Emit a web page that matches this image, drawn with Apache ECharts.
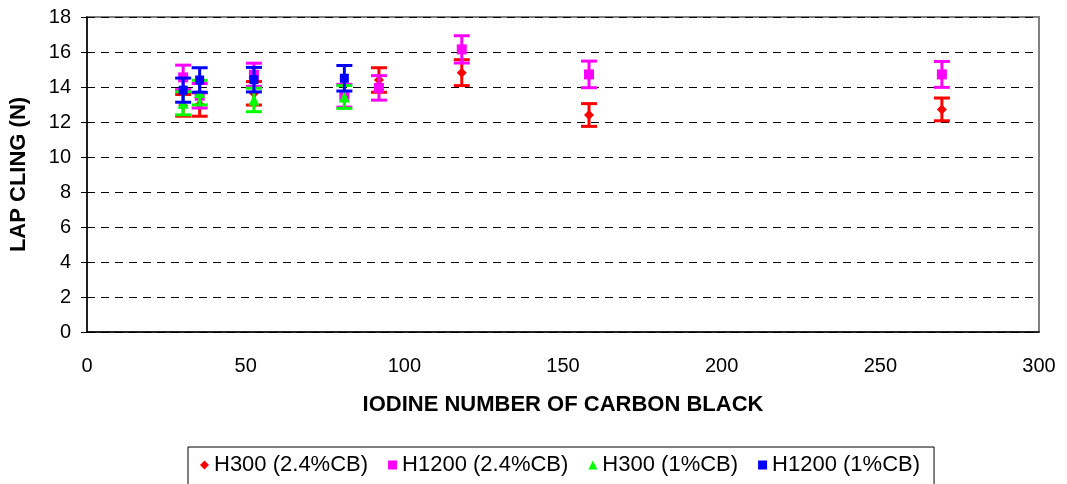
<!DOCTYPE html>
<html>
<head>
<meta charset="utf-8">
<script src="https://cdn.jsdelivr.net/npm/echarts@6/dist/echarts.min.js"></script>
<style>
html,body{margin:0;padding:0;background:#fff;}
#c{width:1067px;height:484px;}
</style>
</head>
<body>
<div id="c"></div>
<script>
// Tick values
const xTicks = [0, 50, 100, 150, 200, 250, 300];
const yTicks = [0, 2, 4, 6, 8, 10, 12, 14, 16, 18];

// Series names
const seriesNames = ['H300 (2.4%CB)', 'H1200 (2.4%CB)', 'H300 (1%CB)', 'H1200 (1%CB)'];

// H300 (2.4%CB)
const redX   = [30.3, 35.5, 52.6, 92.0, 118.1, 158.2, 269.4];
const redY   = [12.95, 13.0, 13.64, 14.4, 14.82, 12.4, 12.72];
const redErr = [0.62, 0.67, 0.67, 0.7, 0.74, 0.65, 0.65];

// H1200 (2.4%CB)
const magX   = [30.3, 35.5, 52.6, 81.1, 92.0, 118.1, 158.2, 269.4];
const magY   = [14.55, 13.5, 14.7, 13.5, 13.95, 16.15, 14.72, 14.72];
const magErr = [0.7, 0.7, 0.66, 0.65, 0.7, 0.78, 0.76, 0.74];

// H300 (1%CB)
const grnX   = [30.3, 35.5, 52.6, 81.1];
const grnY   = [13.07, 13.68, 13.26, 13.43];
const grnErr = [0.66, 0.7, 0.67, 0.65];

// H1200 (1%CB)
const bluX   = [30.3, 35.5, 52.6, 81.1];
const bluY   = [13.82, 14.4, 14.42, 14.5];
const bluErr = [0.69, 0.7, 0.7, 0.73];

const colors = ['#ff0000', '#ff00ff', '#00ff00', '#0000ff'];
const symbols = ['diamond', 'rect', 'triangle', 'rect'];
const symbolSizes = [10, 10, 11, 9];

const groups = [
  [redX, redY, redErr],
  [magX, magY, magErr],
  [grnX, grnY, grnErr],
  [bluX, bluY, bluErr]
];

function pts(g) { return g[0].map((x, i) => [x, g[1][i]]); }
function errs(g) { return g[0].map((x, i) => [x, g[1][i] - g[2][i], g[1][i] + g[2][i]]); }

const series = [];
groups.forEach((g, k) => {
  series.push({
    name: seriesNames[k] + ' err',
    type: 'custom',
    data: errs(g),
    z: 2 + k * 2,
    silent: true,
    renderItem: function (params, api) {
      const x = api.value(0);
      const lo = api.coord([x, api.value(1)]);
      const hi = api.coord([x, api.value(2)]);
      const hw = 8;
      const st = { stroke: colors[k], lineWidth: 3 };
      return {
        type: 'group',
        children: [
          { type: 'line', shape: { x1: lo[0], y1: lo[1], x2: hi[0], y2: hi[1] }, style: st },
          { type: 'line', shape: { x1: lo[0] - hw, y1: lo[1], x2: lo[0] + hw, y2: lo[1] }, style: st },
          { type: 'line', shape: { x1: hi[0] - hw, y1: hi[1], x2: hi[0] + hw, y2: hi[1] }, style: st }
        ]
      };
    }
  });
  series.push({
    name: seriesNames[k],
    type: 'scatter',
    data: pts(g),
    symbol: symbols[k],
    symbolSize: symbolSizes[k],
    itemStyle: { color: colors[k], opacity: 1 },
    z: 3 + k * 2
  });
});

const chart = echarts.init(document.getElementById('c'), null, { renderer: 'canvas' });
chart.setOption({
  animation: false,
  backgroundColor: '#ffffff',
  textStyle: { fontFamily: 'Liberation Sans, Arial, sans-serif' },
  grid: {
    left: 86, right: 28, top: 17, bottom: 152,
    show: true, borderColor: '#808080', borderWidth: 2, backgroundColor: '#ffffff'
  },
  legend: {
    data: seriesNames.map((n, k) => ({ name: n, icon: symbols[k] })),
    left: 188, top: 447,
    itemWidth: 9, itemHeight: 9, itemGap: 20,
    padding: [7, 14, 9, 12],
    borderColor: '#000', borderWidth: 1,
    textStyle: { fontSize: 22, color: '#000', fontFamily: 'Liberation Sans, Arial, sans-serif' }
  },
  xAxis: {
    type: 'value', min: xTicks[0], max: xTicks[xTicks.length - 1], interval: 50,
    name: 'IODINE NUMBER OF CARBON BLACK', nameLocation: 'middle', nameGap: 62,
    nameTextStyle: { fontSize: 22, fontWeight: 'bold', color: '#000' },
    axisLine: { lineStyle: { color: '#000', width: 1.5 } },
    axisTick: { show: false },
    axisLabel: { fontSize: 20, color: '#000', margin: 24 },
    splitLine: { show: false }
  },
  yAxis: {
    type: 'value', min: yTicks[0], max: yTicks[yTicks.length - 1], interval: 2,
    name: 'LAP CLING (N)', nameLocation: 'middle', nameGap: 57,
    nameTextStyle: { fontSize: 22, fontWeight: 'bold', color: '#000' },
    axisLine: { show: true, lineStyle: { color: '#000', width: 1.5 } },
    axisTick: { show: true, length: 6, lineStyle: { color: '#000' } },
    axisLabel: { fontSize: 20, color: '#000', margin: 16 },
    splitLine: { show: true, lineStyle: { color: '#000', type: [8, 6], width: 1 } }
  },
  series: series
});
</script>
</body>
</html>
